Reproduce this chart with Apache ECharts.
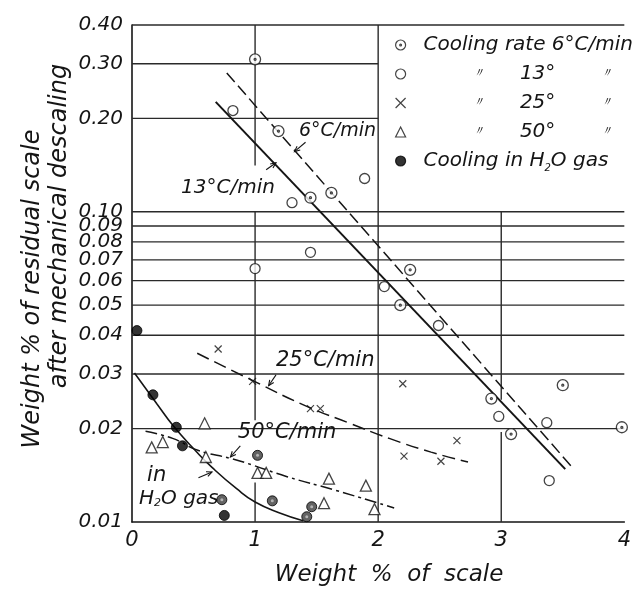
<!DOCTYPE html>
<html><head><meta charset="utf-8">
<script src="https://cdn.jsdelivr.net/npm/echarts@6/dist/echarts.min.js"></script>
<style>html,body{margin:0;padding:0;background:#fff}#c{width:634px;height:590px}</style>
</head><body><div id="c"></div>
<script>
// ---- data ----
const xTicks = [0, 1, 2, 3, 4];
const yTicks = [0.01, 0.02, 0.03, 0.04, 0.05, 0.06, 0.07, 0.08, 0.09, 0.10, 0.20, 0.30, 0.40];

const cool6 = [[1.00,0.31],[1.19,0.182],[1.45,0.111],[1.62,0.115],[2.26,0.065],[2.18,0.050],[2.92,0.025],[3.50,0.0276],[3.08,0.0192],[3.98,0.0202]];
const cool13 = [[0.82,0.212],[1.30,0.107],[1.89,0.128],[1.45,0.074],[1.00,0.0656],[2.05,0.0574],[2.49,0.043],[2.98,0.0219],[3.37,0.0209],[3.39,0.0136]];
const cool25 = [[0.70,0.0361],[0.98,0.0284],[1.45,0.0232],[1.53,0.0232],[2.20,0.0279],[2.64,0.0183],[2.21,0.0163],[2.51,0.0157]];
const cool50 = [[0.16,0.0174],[0.25,0.0181],[0.59,0.0208],[0.60,0.0162],[1.02,0.0144],[1.09,0.0144],[1.60,0.0138],[1.56,0.0115],[1.90,0.0131],[1.97,0.0110]];
const h2o = [[0.04,0.0414],[0.17,0.0257],[0.36,0.0202],[0.41,0.0176],[0.75,0.0105]];
const h2oShaded = [[0.73,0.0118],[1.02,0.0164],[1.14,0.0117],[1.42,0.0104],[1.46,0.0112]];

const line6 = [[0.77,0.280],[3.59,0.0148]];
const line13 = [[0.68,0.226],[3.52,0.0148]];
const line25 = [[0.53,0.0350],[0.97,0.0287],[1.42,0.0236],[1.77,0.0208],[2.09,0.0186],[2.43,0.0168],[2.73,0.0156]];
const line50 = [[0.11,0.0196],[0.33,0.0186],[0.54,0.0170],[0.81,0.0160],[0.97,0.0153],[1.26,0.0140],[1.64,0.0127],[2.13,0.0111]];
const lineH2O = [[0.02,0.0302],[0.20,0.0241],[0.34,0.0203],[0.52,0.0169],[0.65,0.0150],[0.85,0.0128],[1.00,0.0116],[1.20,0.0107],[1.39,0.0101]];

const legendNames = ['6', '13', '25', '50', 'h2o'];
const annoText = ['6°C/min', '13°C/min', '25°C/min', '50°C/min', 'in', 'H{s|2}O gas'];

// ---- annotation / grid geometry ----
const annoPos = [[1.67,0.1825],[0.78,0.1196],[1.57,0.0331],[1.26,0.0194],[0.20,0.0141],[0.38,0.0119]];
const annoSize = [19, 20, 21, 21, 21, 20];
const arrowSegs = [[1.41,0.1675,1.32,0.1563],[1.09,0.1366,1.17,0.1439],[1.17,0.0298,1.11,0.0275],[0.88,0.0176,0.80,0.0162],[0.54,0.0139,0.65,0.0145]];
const hLinesFull = [0.02,0.03,0.04,0.05,0.06,0.07,0.08,0.09,0.10,0.40];
const hLinesHalf = [0.20,0.30];
const vSegs = [[1,0.01,1,0.0134],[1,0.0213,1,0.10],[1,0.141,1,0.40],[2,0.01,2,0.40],[3,0.01,3,0.0195],[3,0.0248,3,0.10]];
const gridSegs = hLinesFull.map(v => [0, v, 4, v]).concat(hLinesHalf.map(v => [0, v, 2, v])).concat(vSegs);

const FONT = '"DejaVu Sans"';
const INK = '#151515';
const SYM_DOT = 'path://M10,0A10,10,0,1,1,-10,0A10,10,0,1,1,10,0ZM1.8,0A1.8,1.8,0,1,1,-1.8,0A1.8,1.8,0,1,1,1.8,0Z';
const SYM_X = 'path://M0,0L10,10M10,0L0,10';

function segRender(params, api) {
  const a = api.coord([api.value(0), api.value(1)]);
  const b = api.coord([api.value(2), api.value(3)]);
  return {type: 'line', shape: {x1: a[0], y1: a[1], x2: b[0], y2: b[1]}, style: {stroke: '#2a2a2a', lineWidth: 1.4}};
}
function arrowRender(params, api) {
  const a = api.coord([api.value(0), api.value(1)]);
  const b = api.coord([api.value(2), api.value(3)]);
  const ang = Math.atan2(b[1] - a[1], b[0] - a[0]);
  const L = 6, w = 0.42;
  return {type: 'group', children: [
    {type: 'line', shape: {x1: a[0], y1: a[1], x2: b[0], y2: b[1]}, style: {stroke: INK, lineWidth: 1.1}},
    {type: 'polyline', shape: {points: [[b[0] - L * Math.cos(ang - w), b[1] - L * Math.sin(ang - w)], b, [b[0] - L * Math.cos(ang + w), b[1] - L * Math.sin(ang + w)]]}, style: {stroke: INK, lineWidth: 1.1, fill: null}}
  ]};
}
function textRender(params, api) {
  const i = params.dataIndex;
  const p = api.coord([api.value(0), api.value(1)]);
  return {type: 'text', x: p[0], y: p[1], style: {
    text: annoText[i], font: 'italic ' + annoSize[i] + 'px ' + FONT, fill: INK,
    align: 'center', verticalAlign: 'middle',
    rich: {s: {fontSize: 11, fontFamily: 'DejaVu Sans', fontStyle: 'italic', fill: INK, verticalAlign: 'bottom', lineHeight: 12}}
  }};
}

const chart = echarts.init(document.getElementById('c'), null, {renderer: 'canvas'});
const lineBase = {type: 'line', symbol: 'none', showSymbol: false, silent: true, z: 2};
const tStyle = {fontFamily: FONT, fontStyle: 'italic', color: INK, lineHeight: 24};

chart.setOption({
  animation: false,
  backgroundColor: '#fff',
  grid: {left: 132, right: 2, top: 25, bottom: 68},
  xAxis: {
    type: 'value', min: 0, max: 4, interval: 1,
    axisLine: {show: true, lineStyle: {color: INK, width: 1.6}},
    axisTick: {show: false}, splitLine: {show: false},
    axisLabel: {customValues: xTicks, fontFamily: FONT, fontStyle: 'italic', fontSize: 21, color: INK, margin: 8}
  },
  yAxis: {
    type: 'log', logBase: 10, min: 0.01, max: 0.4,
    axisLine: {show: true, lineStyle: {color: INK, width: 1.6}},
    axisTick: {show: false}, splitLine: {show: false}, minorSplitLine: {show: false},
    axisLabel: {customValues: yTicks, formatter: v => Number(v).toFixed(2), fontFamily: FONT, fontStyle: 'italic', fontSize: 20, color: INK, margin: 9}
  },
  legend: {
    data: legendNames, orient: 'vertical', left: 390, top: 30, itemWidth: 10, itemHeight: 10, itemGap: 9,
    selectedMode: false,
    itemStyle: {borderWidth: 1.2},
    formatter: name => {
      if (name === '6') return '{g| }{t|Cooling rate 6°C/min}';
      if (name === 'h2o') return '{g| }{t|Cooling in H}{s|2}{t|O gas}';
      return '{g| }{p| }{d|〃}{v|' + name + '°}{d2|〃}';
    },
    textStyle: {
      fontFamily: FONT, fontStyle: 'italic', fontSize: 20, color: INK,
      rich: {
        g: {width: 13},
        t: Object.assign({fontSize: 20}, tStyle),
        s: {fontFamily: FONT, fontStyle: 'italic', color: INK, fontSize: 10, lineHeight: 12, verticalAlign: 'bottom'},
        p: {width: 50},
        d: Object.assign({fontSize: 13, width: 10, align: 'center'}, tStyle),
        v: Object.assign({fontSize: 20, width: 108, align: 'right'}, tStyle),
        d2: Object.assign({fontSize: 13, width: 30, align: 'center'}, tStyle)
      }
    }
  },
  graphic: [
    {type: 'text', x: 33, y: 289, rotation: Math.PI / 2, style: {text: 'Weight % of residual scale', font: 'italic 24px ' + FONT, fill: INK, align: 'center', verticalAlign: 'middle'}},
    {type: 'text', x: 60, y: 226, rotation: Math.PI / 2, style: {text: 'after mechanical descaling', font: 'italic 24px ' + FONT, fill: INK, align: 'center', verticalAlign: 'middle'}},
    {type: 'text', x: 389, y: 575, style: {text: 'Weight  %  of  scale', font: 'italic 23px ' + FONT, fill: INK, align: 'center', verticalAlign: 'middle'}}
  ],
  series: [
    {type: 'custom', name: 'grid', silent: true, z: 1, renderItem: segRender, encode: {x: [0, 2], y: [1, 3]}, data: gridSegs},
    Object.assign({name: 'l6', data: line6, lineStyle: {color: INK, width: 1.5, type: [12, 5]}}, lineBase),
    Object.assign({name: 'l13', data: line13, lineStyle: {color: INK, width: 2}}, lineBase),
    Object.assign({name: 'l25', data: line25, smooth: 0.5, lineStyle: {color: INK, width: 1.5, type: [13, 6]}}, lineBase),
    Object.assign({name: 'l50', data: line50, smooth: 0.5, lineStyle: {color: INK, width: 1.5, type: [12, 4, 3, 4]}}, lineBase),
    Object.assign({name: 'lh2o', data: lineH2O, smooth: 0.5, lineStyle: {color: INK, width: 1.6}}, lineBase),
    {type: 'custom', name: 'arrows', silent: true, z: 3, renderItem: arrowRender, encode: {x: [0, 2], y: [1, 3]}, data: arrowSegs},
    {type: 'custom', name: 'labels', silent: true, z: 4, renderItem: textRender, encode: {x: 0, y: 1}, data: annoPos},
    {type: 'scatter', name: '6', data: cool6, symbol: SYM_DOT, symbolSize: 11, z: 5, itemStyle: {color: '#fff', borderColor: INK, borderWidth: 1.3}},
    {type: 'scatter', name: '13', data: cool13, symbol: 'circle', symbolSize: 10, z: 5, itemStyle: {color: '#fff', borderColor: INK, borderWidth: 1.3}},
    {type: 'scatter', name: '25', data: cool25, symbol: SYM_X, symbolSize: 7, z: 5, itemStyle: {color: 'rgba(0,0,0,0)', borderColor: INK, borderWidth: 1.2}},
    {type: 'scatter', name: '50', data: cool50, symbol: 'triangle', symbolSize: 11, z: 5, itemStyle: {color: '#fff', borderColor: INK, borderWidth: 1.3}},
    {type: 'scatter', name: 'h2o', data: h2o, symbol: 'circle', symbolSize: 10, z: 5, itemStyle: {color: '#000', borderColor: '#000', borderWidth: 1}},
    {type: 'scatter', name: 'h2oShaded', data: h2oShaded, symbol: 'circle', symbolSize: 10, z: 5, itemStyle: {color: '#3c3c3c', borderColor: '#000', borderWidth: 1}},
    {type: 'scatter', name: 'h2oShadedDot', data: h2oShaded, symbol: 'circle', symbolSize: 3, z: 6, silent: true, itemStyle: {color: '#c8c8c8'}}
  ]
});
</script>
</body></html>
